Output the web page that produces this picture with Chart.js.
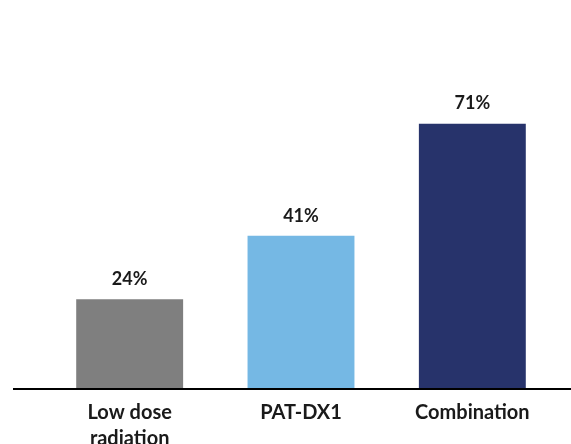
<!DOCTYPE html>
<html>
<head>
<meta charset="utf-8">
<script src="https://cdn.jsdelivr.net/npm/chart.js@4"></script>
<style>
  html, body { margin: 0; padding: 0; background: #fff; }
  #wrap { width: 571px; height: 444px; }
</style>
</head>
<body>
<div id="wrap"><canvas id="barChart"></canvas></div>
<script>
let categories = [["Low dose", "radiation"], "PAT-DX1", "Combination"];
let responseRates = [24, 41, 71];
let barColors = ["#7f7f7f", "#75b8e4", "#27336b"];

// value labels above bars + long baseline
let barLabels = {
  id: "barLabels",
  afterDatasetsDraw(chart) {
    let ctx = chart.ctx;
    let meta = chart.getDatasetMeta(0);
    ctx.save();
    ctx.font = "bold 18px Lato, 'Open Sans', sans-serif";
    ctx.fillStyle = "#1a1a1a";
    ctx.textAlign = "center";
    ctx.textBaseline = "middle";
    meta.data.forEach((bar, i) => {
      ctx.fillText(responseRates[i] + "%", bar.x, bar.y - 20);
    });
    // baseline
    let y0 = chart.scales.y.getPixelForValue(0);
    ctx.strokeStyle = "#000";
    ctx.lineWidth = 2;
    ctx.beginPath();
    ctx.moveTo(13, y0);
    ctx.lineTo(chart.width, y0);
    ctx.stroke();
    ctx.restore();
  }
};

let barCtx = document.getElementById("barChart").getContext("2d");
let barChart = new Chart(barCtx, {
  type: "bar",
  data: {
    labels: categories,
    datasets: [{
      data: responseRates,
      backgroundColor: barColors,
      barPercentage: 1,
      categoryPercentage: 0.624
    }]
  },
  options: {
    responsive: true,
    maintainAspectRatio: false,
    animation: false,
    layout: { padding: { top: 90, left: 44, right: 13, bottom: 0 } },
    plugins: { legend: { display: false }, tooltip: { enabled: false } },
    scales: {
      x: {
        grid: { display: false },
        border: { display: false },
        afterFit: s => { s.height = 55; },
        ticks: {
          color: "#1a1a1a",
          padding: 3,
          font: { family: "Lato, 'Open Sans', sans-serif", size: 20, weight: "bold", lineHeight: 1.27 }
        }
      },
      y: {
        display: false,
        min: 0,
        max: 80
      }
    }
  },
  plugins: [barLabels]
});
</script>
</body>
</html>
